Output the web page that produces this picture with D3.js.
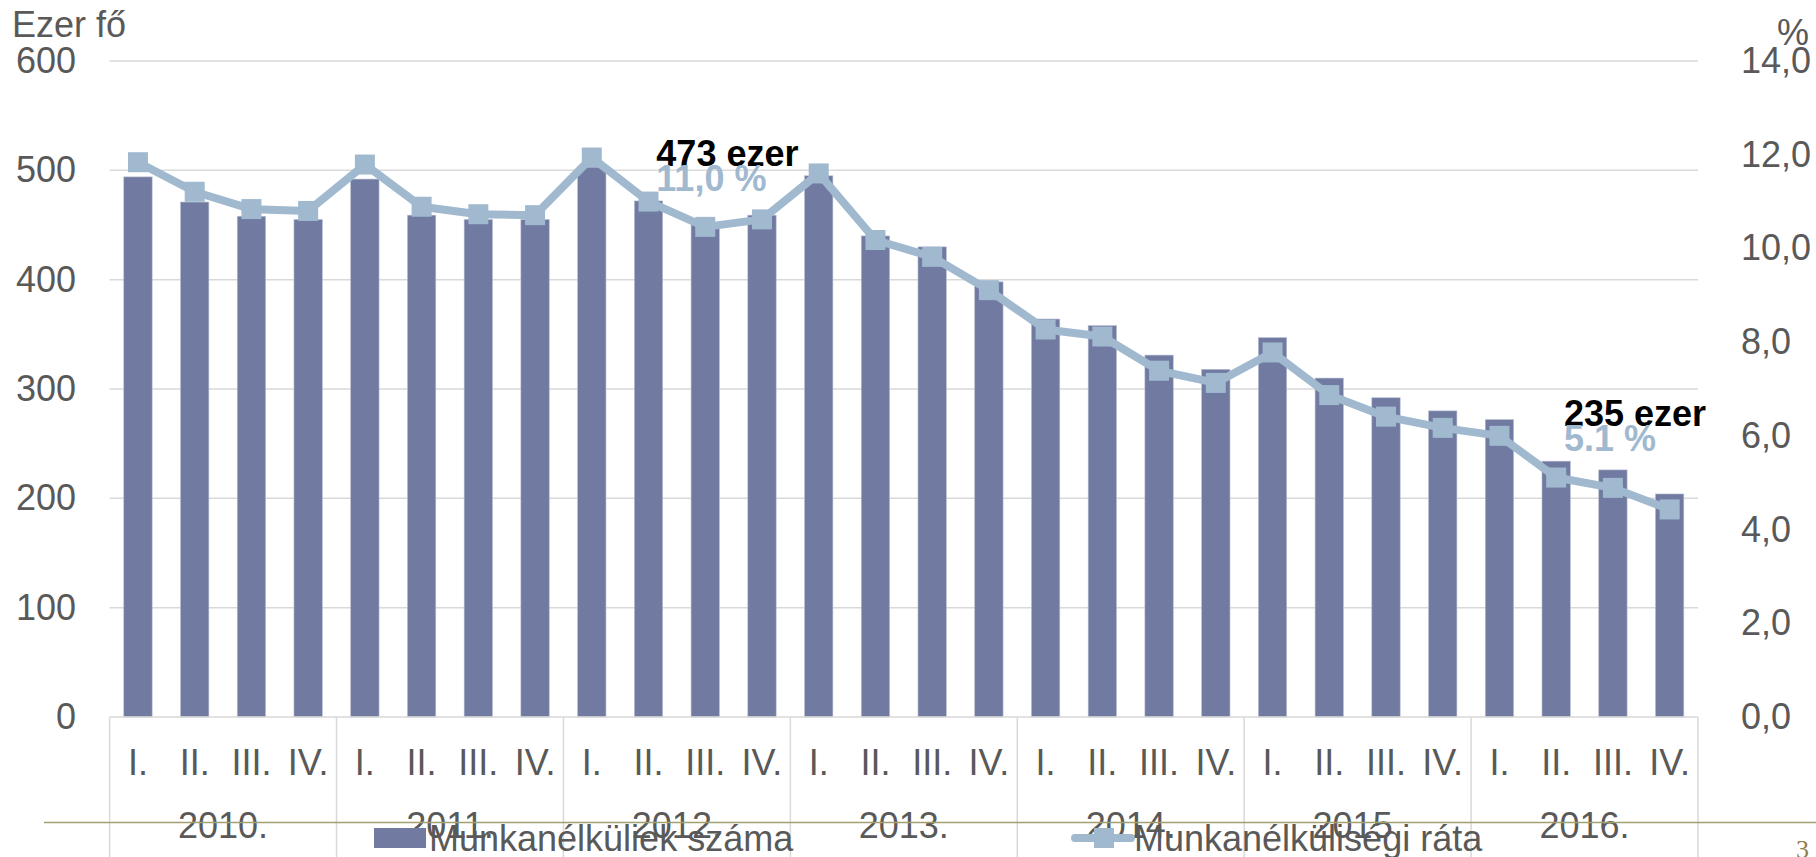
<!DOCTYPE html>
<html>
<head>
<meta charset="utf-8">
<script src="https://cdn.jsdelivr.net/npm/d3@7"></script>
<style>
  html, body { margin: 0; padding: 0; background: #fff; overflow: hidden; }
  svg text { font-family: "Liberation Sans", Arial, sans-serif; }
</style>
</head>
<body>
<div id="chart"></div>
<script>
(function() {
    // --- adatok ---
    const years = ["2010.", "2011.", "2012.", "2013.", "2014.", "2015.", "2016."];
    const quarters = ["I.", "II.", "III.", "IV."];

    // Munkanélküliek száma (ezer fő), negyedévente
    const unemployed = [
        494, 471, 458, 455,
        492, 459, 455, 455,
        503, 472, 451, 459,
        495, 440, 430, 398,
        364, 358, 331, 318,
        347, 310, 292, 280,
        272, 234, 226, 204
    ];
    // Munkanélküliségi ráta (%)
    const rate = [
        11.84, 11.21, 10.84, 10.80,
        11.79, 10.89, 10.73, 10.71,
        11.94, 11.00, 10.46, 10.62,
        11.60, 10.18, 9.82, 9.11,
        8.27, 8.12, 7.39, 7.13,
        7.78, 6.87, 6.41, 6.17,
        6.00, 5.11, 4.89, 4.43
    ];
    const leftTicks = [0, 100, 200, 300, 400, 500, 600];
    const rightTicks = [0, 2, 4, 6, 8, 10, 12, 14];
    const seriesNames = ["Munkanélküliek száma", "Munkanélküliségi ráta"];
    const notes = [
        { key: "2012.-II.", top: "473 ezer", bottom: "11,0 %" },
        { key: "2016.-II.", top: "235 ezer", bottom: "5.1 %" }
    ];

    const width = 1816, height = 857;
    const left = 109.6, right = 1698, top = 61, bottom = 717;
    const barColor = "#717ba1", lineColor = "#a0b9cf";
    const textColor = "#595959", gridColor = "#d9d9d9";

    const keys = years.flatMap(y => quarters.map(q => y + "-" + q));
    const rows = keys.map((k, i) => ({ key: k, year: k.split("-")[0], q: k.split("-")[1], n: unemployed[i], r: rate[i] }));

    const svg = d3.select("#chart").append("svg")
        .attr("width", width).attr("height", height);

    const x = d3.scaleBand().domain(keys).range([left, right]).paddingInner(0.5).paddingOuter(0.25);
    const xYear = d3.scaleBand().domain(years).range([left, right]);
    const y = d3.scaleLinear().domain([0, 600]).range([bottom, top]);
    const y2 = d3.scaleLinear().domain([0, 14]).range([bottom, top]);

    // rácsvonalak
    svg.append("g").selectAll("line")
        .data(leftTicks.filter(d => d > 0))
        .join("line")
        .attr("x1", left).attr("x2", right)
        .attr("y1", d => y(d)).attr("y2", d => y(d))
        .attr("stroke", gridColor).attr("stroke-width", 1.5);

    // bal tengely
    const axL = svg.append("g")
        .attr("transform", `translate(${left},0)`)
        .call(d3.axisLeft(y).tickValues(leftTicks).tickSize(0).tickPadding(33.6));
    axL.select(".domain").remove();
    axL.selectAll("text").attr("font-size", 36).attr("fill", textColor)
        .style("font-family", '"Liberation Sans", Arial, sans-serif');

    // jobb tengely
    const axR = svg.append("g")
        .attr("transform", `translate(${right},0)`)
        .call(d3.axisRight(y2).tickValues(rightTicks).tickSize(0).tickPadding(43)
            .tickFormat(d => d3.format(".1f")(d).replace(".", ",")));
    axR.select(".domain").remove();
    axR.selectAll("text").attr("font-size", 36).attr("fill", textColor)
        .style("font-family", '"Liberation Sans", Arial, sans-serif');

    svg.append("text").attr("x", 12).attr("y", 37)
        .attr("font-size", 36).attr("fill", textColor).text("Ezer fő");
    svg.append("text").attr("x", 1777).attr("y", 45)
        .attr("font-size", 36).attr("fill", textColor).text("%");

    // oszlopok
    svg.append("g").selectAll("rect")
        .data(rows)
        .join("rect")
        .attr("x", d => x(d.key))
        .attr("width", x.bandwidth())
        .attr("y", d => y(d.n))
        .attr("height", d => y(0) - y(d.n))
        .attr("fill", barColor)
        .attr("stroke", "#b9bed3").attr("stroke-width", 0.6);

    // kategória tengely
    svg.append("line")
        .attr("x1", left).attr("x2", right).attr("y1", bottom).attr("y2", bottom)
        .attr("stroke", gridColor).attr("stroke-width", 1.5);
    const seps = years.map(d => xYear(d)).concat([right]);
    svg.append("g").selectAll("line")
        .data(seps)
        .join("line")
        .attr("x1", d => d).attr("x2", d => d)
        .attr("y1", bottom).attr("y2", height)
        .attr("stroke", gridColor).attr("stroke-width", 1.5);

    svg.append("g").selectAll("text")
        .data(rows)
        .join("text")
        .attr("x", d => x(d.key) + x.bandwidth() / 2)
        .attr("y", 775)
        .attr("text-anchor", "middle")
        .attr("font-size", 36).attr("fill", textColor)
        .text(d => d.q);

    svg.append("g").selectAll("text")
        .data(years)
        .join("text")
        .attr("x", d => xYear(d) + xYear.bandwidth() / 2)
        .attr("y", 838)
        .attr("text-anchor", "middle")
        .attr("font-size", 36).attr("fill", textColor)
        .text(d => d);

    // vonal + jelölők
    const line = d3.line()
        .x(d => x(d.key) + x.bandwidth() / 2)
        .y(d => y2(d.r));
    svg.append("path")
        .datum(rows)
        .attr("d", line)
        .attr("fill", "none")
        .attr("stroke", lineColor)
        .attr("stroke-width", 8)
        .attr("stroke-linejoin", "round");
    svg.append("g").selectAll("rect")
        .data(rows)
        .join("rect")
        .attr("x", d => x(d.key) + x.bandwidth() / 2 - 10)
        .attr("y", d => y2(d.r) - 10)
        .attr("width", 20).attr("height", 20)
        .attr("fill", lineColor);

    // feliratok
    const ann = svg.append("g").selectAll("g")
        .data(notes)
        .join("g")
        .attr("transform", d => `translate(${x(d.key) + 22},0)`);
    ann.append("text")
        .attr("y", d => y(rows.find(r => r.key === d.key).n) - 35)
        .attr("font-size", 36).attr("font-weight", "bold").attr("fill", "#000")
        .text(d => d.top);
    ann.append("text")
        .attr("y", d => y(rows.find(r => r.key === d.key).n) - 10)
        .attr("font-size", 36).attr("font-weight", "bold").attr("fill", lineColor)
        .text(d => d.bottom);

    // lábléc vonal
    svg.append("line")
        .attr("x1", 44).attr("x2", width).attr("y1", 822.5).attr("y2", 822.5)
        .attr("stroke", "#a39f70").attr("stroke-width", 1.5);

    // jelmagyarázat
    const lg = svg.append("g");
    lg.append("rect").attr("x", 374).attr("y", 828).attr("width", 52).attr("height", 20).attr("fill", barColor);
    lg.append("text").attr("x", 429).attr("y", 851)
        .attr("font-size", 36).attr("fill", textColor).text(seriesNames[0]);
    lg.append("line").attr("x1", 1075).attr("x2", 1131).attr("y1", 838).attr("y2", 838)
        .attr("stroke", lineColor).attr("stroke-width", 8).attr("stroke-linecap", "round");
    lg.append("rect").attr("x", 1094).attr("y", 828).attr("width", 20).attr("height", 20).attr("fill", lineColor);
    lg.append("text").attr("x", 1134).attr("y", 851)
        .attr("font-size", 36).attr("fill", textColor).text(seriesNames[1]);

    // oldalszám
    svg.append("text").attr("x", 1796).attr("y", 858)
        .attr("font-size", 26).attr("fill", "#8f8050")
        .style("font-family", '"Liberation Serif", "Times New Roman", serif')
        .text("3");
})();
</script>
</body>
</html>
